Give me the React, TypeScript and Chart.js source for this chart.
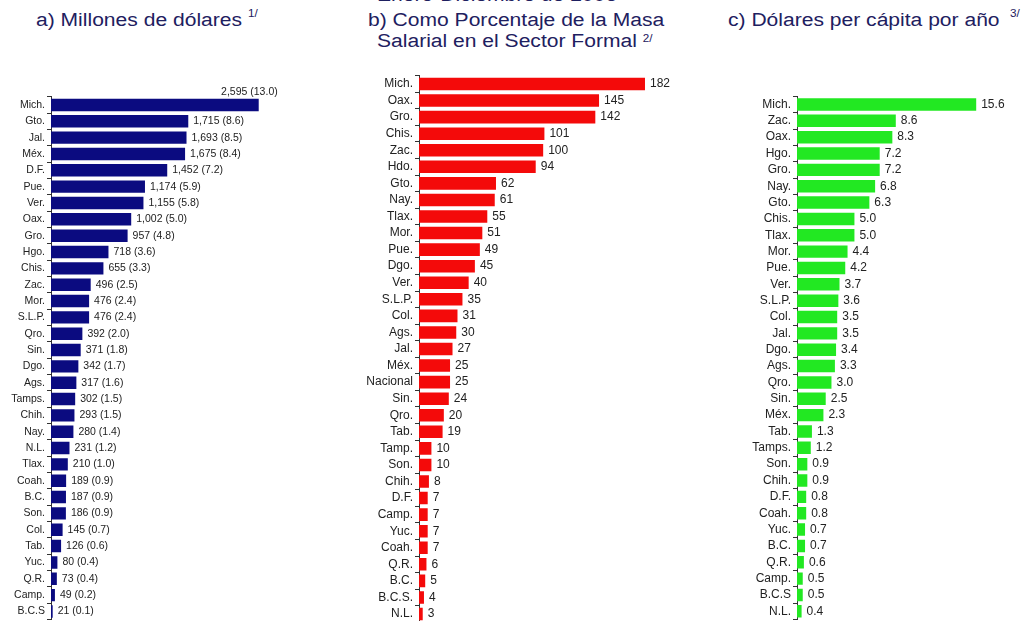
import React, { useEffect, useRef } from "react";
import { Chart, registerables } from "chart.js";

Chart.register(...registerables);

const FONT = '"Liberation Sans", Arial, Helvetica, sans-serif';

// Panel a) Millones de dólares
const statesA = ["Mich.", "Gto.", "Jal.", "Méx.", "D.F.", "Pue.", "Ver.", "Oax.", "Gro.", "Hgo.", "Chis.", "Zac.", "Mor.", "S.L.P.", "Qro.", "Sin.", "Dgo.", "Ags.", "Tamps.", "Chih.", "Nay.", "N.L.", "Tlax.", "Coah.", "B.C.", "Son.", "Col.", "Tab.", "Yuc.", "Q.R.", "Camp.", "B.C.S"];
const valuesA = [2595, 1715, 1693, 1675, 1452, 1174, 1155, 1002, 957, 718, 655, 496, 476, 476, 392, 371, 342, 317, 302, 293, 280, 231, 210, 189, 187, 186, 145, 126, 80, 73, 49, 21];
const sharesA = [13.0, 8.6, 8.5, 8.4, 7.2, 5.9, 5.8, 5.0, 4.8, 3.6, 3.3, 2.5, 2.4, 2.4, 2.0, 1.8, 1.7, 1.6, 1.5, 1.5, 1.4, 1.2, 1.0, 0.9, 0.9, 0.9, 0.7, 0.6, 0.4, 0.4, 0.2, 0.1];

// Panel b) Como porcentaje de la masa salarial
const statesB = ["Mich.", "Oax.", "Gro.", "Chis.", "Zac.", "Hdo.", "Gto.", "Nay.", "Tlax.", "Mor.", "Pue.", "Dgo.", "Ver.", "S.L.P.", "Col.", "Ags.", "Jal.", "Méx.", "Nacional", "Sin.", "Qro.", "Tab.", "Tamp.", "Son.", "Chih.", "D.F.", "Camp.", "Yuc.", "Coah.", "Q.R.", "B.C.", "B.C.S.", "N.L."];
const valuesB = [182, 145, 142, 101, 100, 94, 62, 61, 55, 51, 49, 45, 40, 35, 31, 30, 27, 25, 25, 24, 20, 19, 10, 10, 8, 7, 7, 7, 7, 6, 5, 4, 3];

// Panel c) Dólares per cápita por año
const statesC = ["Mich.", "Zac.", "Oax.", "Hgo.", "Gro.", "Nay.", "Gto.", "Chis.", "Tlax.", "Mor.", "Pue.", "Ver.", "S.L.P.", "Col.", "Jal.", "Dgo.", "Ags.", "Qro.", "Sin.", "Méx.", "Tab.", "Tamps.", "Son.", "Chih.", "D.F.", "Coah.", "Yuc.", "B.C.", "Q.R.", "Camp.", "B.C.S", "N.L."];
const valuesC = [15.6, 8.6, 8.3, 7.2, 7.2, 6.8, 6.3, 5.0, 5.0, 4.4, 4.2, 3.7, 3.6, 3.5, 3.5, 3.4, 3.3, 3.0, 2.5, 2.3, 1.3, 1.2, 0.9, 0.9, 0.8, 0.8, 0.7, 0.7, 0.6, 0.5, 0.5, 0.4];

const fmtThousands = (v: number) => v.toLocaleString("en-US");
const textsA = valuesA.map((v, i) => `${fmtThousands(v)} (${sharesA[i].toFixed(1)})`);
const textsB = valuesB.map((v) => String(v));
const textsC = valuesC.map((v) => v.toFixed(1));

const valueLabelPlugin = {
  id: "valueLabels",
  afterDatasetsDraw(chart: any, _args: any, opts: any) {
    const ctx = chart.ctx;
    const meta = chart.getDatasetMeta(0);
    ctx.save();
    ctx.font = `${opts.size}px ${FONT}`;
    ctx.fillStyle = "#222";
    ctx.textBaseline = "middle";
    meta.data.forEach((bar: any, i: number) => {
      const t = opts.texts[i];
      if (i === 0 && opts.firstAbove) {
        ctx.textAlign = "right";
        ctx.fillText(t, bar.x + 19, bar.y - 13);
      } else {
        ctx.textAlign = "left";
        ctx.fillText(t, bar.x + 5, bar.y);
      }
    });
    ctx.restore();
  },
};

type PanelProps = {
  labels: string[];
  values: number[];
  texts: string[];
  color: string;
  left: number;
  top: number;
  width: number;
  height: number;
  padTop: number;
  padBottom: number;
  axisWidth: number;
  xMax: number;
  catSize: number;
  valSize: number;
  firstAbove?: boolean;
};

function BarPanel(p: PanelProps) {
  const ref = useRef<HTMLCanvasElement | null>(null);
  useEffect(() => {
    if (!ref.current) return;
    const chart = new Chart(ref.current, {
      type: "bar",
      data: {
        labels: p.labels,
        datasets: [
          {
            data: p.values,
            backgroundColor: p.color,
            barPercentage: 0.76,
            categoryPercentage: 1,
          },
        ],
      },
      options: {
        indexAxis: "y",
        responsive: false,
        animation: false,
        layout: { padding: { top: p.padTop, bottom: p.padBottom, left: 0, right: 0 } },
        plugins: {
          legend: { display: false },
          tooltip: { enabled: false },
          valueLabels: { texts: p.texts, size: p.valSize, firstAbove: !!p.firstAbove },
        } as any,
        scales: {
          x: { display: false, min: 0, max: p.xMax },
          y: {
            afterFit: (s: any) => {
              s.width = p.axisWidth;
              s.paddingTop = 0;
              s.paddingBottom = 0;
            },
            grid: {
              drawOnChartArea: false,
              drawTicks: true,
              tickLength: 4,
              color: "#333",
              offset: true,
            },
            border: { display: true, color: "#333", width: 1 },
            ticks: {
              color: "#222",
              font: { family: FONT, size: p.catSize },
              padding: 2,
              autoSkip: false,
            },
          },
        },
      },
      plugins: [valueLabelPlugin],
    });
    return () => chart.destroy();
  }, []);
  return (
    <canvas
      ref={ref}
      width={p.width}
      height={p.height}
      style={{ position: "absolute", left: p.left, top: p.top, width: p.width, height: p.height, display: "block" }}
    />
  );
}

const titleColor = "#1e2060";

function TitleLine(props: { left: number; top: number; children: React.ReactNode }) {
  return (
    <div
      style={{
        position: "absolute",
        left: props.left,
        top: props.top,
        fontFamily: FONT,
        fontSize: 18,
        lineHeight: "18px",
        color: titleColor,
        whiteSpace: "nowrap",
        transform: "scaleX(1.17)",
        transformOrigin: "left top",
      }}
    >
      {props.children}
    </div>
  );
}

const sup = (t: string, shift: number, ml = 0) => (
  <span style={{ fontSize: 10, position: "relative", top: shift, marginLeft: ml }}>{t}</span>
);

export default function App() {
  return (
    <div
      style={{
        position: "fixed",
        left: 0,
        top: 0,
        width: 1021,
        height: 621,
        overflow: "hidden",
        background: "#ffffff",
      }}
    >
      <TitleLine left={377} top={-14}>Enero-Diciembre de 2006</TitleLine>
      <TitleLine left={36} top={11}>
        a) Millones de dólares {sup("1/", -9)}
      </TitleLine>
      <TitleLine left={368} top={11}>b) Como Porcentaje de la Masa</TitleLine>
      <TitleLine left={377} top={32}>
        Salarial en el Sector Formal {sup("2/", -5)}
      </TitleLine>
      <TitleLine left={728} top={11}>
        c) Dólares per cápita por año {sup("3/", -9, 4)}
      </TitleLine>

      <BarPanel
        labels={statesA}
        values={valuesA}
        texts={textsA}
        color="#0b0b80"
        left={0}
        top={80}
        width={345}
        height={541}
        padTop={16.8}
        padBottom={1.4}
        axisWidth={51}
        xMax={3673}
        catSize={10.5}
        valSize={10.5}
        firstAbove
      />
      <BarPanel
        labels={statesB}
        values={valuesB}
        texts={textsB}
        color="#f40a0a"
        left={345}
        top={65}
        width={335}
        height={560}
        padTop={10.7}
        padBottom={2.7}
        axisWidth={74}
        xMax={210.2}
        catSize={12}
        valSize={12}
      />
      <BarPanel
        labels={statesC}
        values={valuesC}
        texts={textsC}
        color="#22e822"
        left={680}
        top={80}
        width={341}
        height={541}
        padTop={16.3}
        padBottom={1.5}
        axisWidth={117}
        xMax={19.5}
        catSize={12}
        valSize={12}
      />
    </div>
  );
}
